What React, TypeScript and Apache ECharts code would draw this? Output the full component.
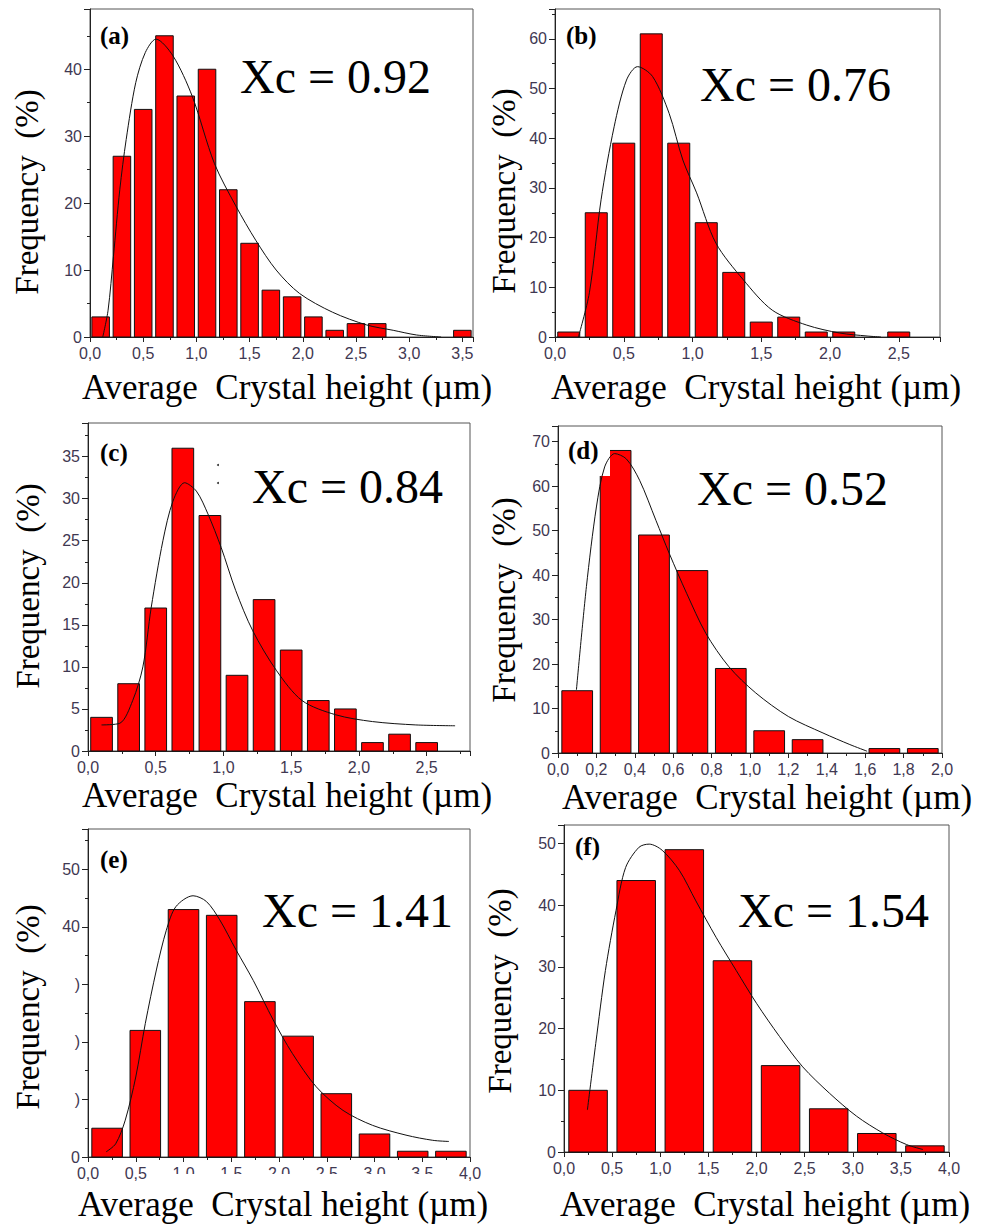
import React, { useEffect, useRef } from 'react';
import * as echarts from 'echarts';

// ---------- data ----------
const aCenters = [0.1, 0.3, 0.5, 0.7, 0.9, 1.1, 1.3, 1.5, 1.7, 1.9, 2.1, 2.3, 2.5, 2.7, 3.5];
const aFreq = [3, 27, 34, 45, 36, 40, 22, 14, 7, 6, 3, 1, 2, 2, 1];
const aFit = [[0.12, 0], [0.17, 4], [0.22, 12], [0.28, 22], [0.34, 29.5], [0.43, 38], [0.52, 42.5], [0.62, 44.5], [0.78, 42], [0.96, 36], [1.17, 25.9], [1.37, 19.6], [1.56, 14.4], [1.75, 10], [1.97, 6.5], [2.28, 3.7], [2.6, 1.8], [2.85, 1], [3.07, 0.3], [3.3, 0]];

const bCenters = [0.1, 0.3, 0.5, 0.7, 0.9, 1.1, 1.3, 1.5, 1.7, 1.9, 2.1, 2.5];
const bFreq = [1, 25, 39, 61, 39, 23, 13, 3, 4, 1, 1, 1];
const bFit = [[0.17, 0], [0.25, 8.9], [0.335, 27.6], [0.43, 42.3], [0.52, 51.7], [0.6, 54.4], [0.71, 52.4], [0.83, 45], [0.93, 35.6], [1.03, 29], [1.17, 18.9], [1.37, 11.5], [1.58, 5.4], [1.83, 2.4], [2.07, 0.8], [2.27, 0.2], [2.37, 0]];

const cCenters = [0.1, 0.3, 0.5, 0.7, 0.9, 1.1, 1.3, 1.5, 1.7, 1.9, 2.1, 2.3, 2.5];
const cFreq = [4, 8, 17, 36, 28, 9, 18, 12, 6, 5, 1, 2, 1];
const cFit = [[0.1, 3.1], [0.235, 3.3], [0.33, 6], [0.405, 10], [0.467, 17.1], [0.553, 25], [0.627, 29.7], [0.713, 31.9], [0.8, 30.9], [0.885, 28.2], [0.983, 24.2], [1.09, 19.1], [1.216, 14.3], [1.39, 9.6], [1.58, 6], [1.83, 4.3], [2.1, 3.5], [2.42, 3.1], [2.71, 3]];

const dCenters = [0.1, 0.3, 0.5, 0.7, 0.9, 1.1, 1.3, 1.7, 1.9];
const dFreq = [14, 68, 49, 41, 19, 5, 3, 1, 1];
const dFit = [[0.096, 14.2], [0.148, 37.4], [0.2, 55.3], [0.243, 64.3], [0.295, 67.3], [0.356, 66.1], [0.425, 61.3], [0.51, 52.3], [0.58, 44.8], [0.67, 35.9], [0.77, 26.9], [0.89, 19.4], [1.03, 13.5], [1.2, 8.2], [1.38, 4.5], [1.52, 1.9], [1.61, 0.4]];

const eCenters = [0.2, 0.6, 1.0, 1.4, 1.8, 2.2, 2.6, 3.0, 3.4, 3.8];
const eFreq = [5, 22, 43, 42, 27, 21, 11, 4, 1, 1];
const eFit = [[0.19, 0.9], [0.29, 2.3], [0.39, 6.4], [0.5, 13.9], [0.6, 23.2], [0.716, 32.5], [0.82, 39.4], [0.92, 43.5], [1.1, 45.4], [1.24, 44.4], [1.38, 41.2], [1.55, 36], [1.73, 30.7], [1.94, 23.8], [2.14, 18], [2.39, 12.2], [2.67, 8.1], [2.98, 5.5], [3.33, 3.8], [3.61, 2.9], [3.78, 2.7]];

const fCenters = [0.25, 0.75, 1.25, 1.75, 2.25, 2.75, 3.25, 3.75];
const fFreq = [10, 44, 49, 31, 14, 7, 3, 1];
const fFit = [[0.243, 6.8], [0.33, 17.6], [0.43, 29.4], [0.54, 39.1], [0.64, 46.1], [0.78, 49.4], [0.885, 49.9], [1.02, 48.9], [1.2, 45.6], [1.37, 40.7], [1.58, 34.8], [1.79, 29.4], [2.0, 24.1], [2.24, 18.7], [2.48, 13.8], [2.76, 9.5], [3.04, 5.8], [3.31, 3.1], [3.56, 1.2], [3.73, 0.4]];

const panelLabels = ['(a)', '(b)', '(c)', '(d)', '(e)', '(f)'];
const xcTexts = ['Xc = 0.92', 'Xc = 0.76', 'Xc = 0.84', 'Xc = 0.52', 'Xc = 1.41', 'Xc = 1.54'];
const yTitle = 'Frequency  (%)';
const xTitle = 'Average  Crystal height (\u00b5m)';

// ---------- layout ----------
const SERIF = 'Liberation Serif';
const SANS = 'Liberation Sans';
const TICK_COLOR = '#3f3852';

const panels = [
  { centers: aCenters, freq: aFreq, fit: aFit, grid: { left: 90, top: 9, width: 383, height: 328 }, xMax: 3.6, xInt: 0.5, yMax: 49, yInt: 10, barW: 0.165,
    lab: [100, 35], xc: [240, 76], yt: [27, 192], xt: [287, 387], hideY: [] as number[] },
  { centers: bCenters, freq: bFreq, fit: bFit, grid: { left: 555, top: 9, width: 385, height: 328 }, xMax: 2.8, xInt: 0.5, yMax: 66, yInt: 10, barW: 0.16,
    lab: [566, 35], xc: [700, 84], yt: [504, 191], xt: [756, 387], hideY: [] },
  { centers: cCenters, freq: cFreq, fit: cFit, grid: { left: 88, top: 423, width: 382, height: 328 }, xMax: 2.82, xInt: 0.5, yMax: 39, yInt: 5, barW: 0.16,
    lab: [100, 452], xc: [252, 486], yt: [28, 586], xt: [287, 795], hideY: [] },
  { centers: dCenters, freq: dFreq, fit: dFit, grid: { left: 558, top: 426, width: 384, height: 327 }, xMax: 2.0, xInt: 0.2, yMax: 73.5, yInt: 10, barW: 0.16,
    lab: [568, 450], xc: [697, 488], yt: [504, 600], xt: [767, 797], hideY: [] },
  { centers: eCenters, freq: eFreq, fit: eFit, grid: { left: 88, top: 829, width: 382, height: 328 }, xMax: 4.0, xInt: 0.5, yMax: 57, yInt: 10, barW: 0.32,
    lab: [100, 859], xc: [262, 910], yt: [28, 1007], xt: [283, 1204], hideY: [10, 20, 30] },
  { centers: fCenters, freq: fFreq, fit: fFit, grid: { left: 564, top: 825, width: 385, height: 327 }, xMax: 4.0, xInt: 0.5, yMax: 53, yInt: 10, barW: 0.4,
    lab: [575, 846], xc: [738, 910], yt: [500, 991], xt: [765, 1204], hideY: [] },
];

function isMultiple(v: number, step: number) {
  const r = v / step;
  return Math.abs(r - Math.round(r)) < 1e-6;
}

function txt(text: string, size: number, weight: string = 'normal') {
  return { text, fontFamily: SERIF, fontSize: size, fontWeight: weight, fill: '#000' };
}

function buildOption() {
  const grid: any[] = [];
  const xAxis: any[] = [];
  const yAxis: any[] = [];
  const series: any[] = [];
  const graphic: any[] = [];

  panels.forEach((p, i) => {
    grid.push({ ...p.grid, show: true, borderColor: '#555', borderWidth: 1, backgroundColor: 'transparent', containLabel: false });
    xAxis.push({
      type: 'value', gridIndex: i, min: 0, max: p.xMax, interval: p.xInt,
      axisLine: { show: true, onZero: false, lineStyle: { color: '#222', width: 1 } },
      axisTick: { show: true, inside: false, length: 5, lineStyle: { color: '#222' } },
      minorTick: { show: true, splitNumber: 2, length: 3, lineStyle: { color: '#222' } },
      splitLine: { show: false },
      axisLabel: {
        show: true, margin: 8, color: TICK_COLOR, fontFamily: SANS, fontSize: 16,
        formatter: (v: number) => (isMultiple(v, p.xInt) ? v.toFixed(1).replace('.', ',') : ''),
      },
    });
    yAxis.push({
      type: 'value', gridIndex: i, min: 0, max: p.yMax, interval: p.yInt,
      axisLine: { show: true, onZero: false, lineStyle: { color: '#222', width: 1 } },
      axisTick: { show: true, inside: false, length: 6, lineStyle: { color: '#222' } },
      minorTick: { show: true, splitNumber: 2, length: 3, lineStyle: { color: '#222' } },
      splitLine: { show: false },
      axisLabel: {
        show: true, margin: 8, color: TICK_COLOR, fontFamily: SANS, fontSize: 16,
        formatter: (v: number) => {
          if (!isMultiple(v, p.yInt)) return '';
          if (p.hideY.indexOf(Math.round(v)) >= 0) return ')';
          return String(Math.round(v));
        },
      },
    });
    const w = p.barW;
    series.push({
      type: 'custom', xAxisIndex: i, yAxisIndex: i, z: 2,
      data: p.centers.map((c, k) => [c, p.freq[k]]),
      encode: { x: 0, y: 1 },
      renderItem: (params: any, api: any) => {
        const x = api.value(0);
        const y = api.value(1);
        const p0 = api.coord([x - w / 2, y]);
        const p1 = api.coord([x + w / 2, 0]);
        return {
          type: 'rect',
          shape: { x: p0[0], y: p0[1], width: p1[0] - p0[0], height: p1[1] - p0[1] },
          style: { fill: '#ff0000', stroke: '#111', lineWidth: 1 },
        };
      },
    });
    series.push({
      type: 'line', xAxisIndex: i, yAxisIndex: i, z: 5,
      data: p.fit, smooth: 0.3, showSymbol: false, symbol: 'none',
      lineStyle: { color: '#111', width: 1 },
    });

    graphic.push({
      type: 'text', x: p.lab[0], y: p.lab[1], z: 10,
      style: { ...txt(panelLabels[i], 25, 'bold'), align: 'left', verticalAlign: 'middle' },
    });
    graphic.push({
      type: 'text', x: p.xc[0], y: p.xc[1], z: 10,
      style: { ...txt(xcTexts[i], 48), align: 'left', verticalAlign: 'middle' },
    });
    graphic.push({
      type: 'text', x: p.yt[0], y: p.yt[1], rotation: Math.PI / 2, z: 10,
      style: { ...txt(yTitle, 33), align: 'center', verticalAlign: 'middle' },
    });
    graphic.push({
      type: 'text', x: p.xt[0], y: p.xt[1], z: 10,
      style: { ...txt(xTitle, 35), align: 'center', verticalAlign: 'middle' },
    });
  });

  // white patch behind label (d) that hides the bar corner
  graphic.push({ type: 'rect', z: 3, shape: { x: 562, y: 436, width: 48, height: 40 }, style: { fill: '#fff' } });
  // patch clipping some tick labels of (e)
  graphic.push({ type: 'rect', z: 3, shape: { x: 165, y: 1174, width: 283, height: 12 }, style: { fill: '#fff' } });
  // stray dots in (c)
  graphic.push({ type: 'circle', z: 3, shape: { cx: 218, cy: 465, r: 1 }, style: { fill: '#333' } });
  graphic.push({ type: 'circle', z: 3, shape: { cx: 218, cy: 483, r: 1 }, style: { fill: '#333' } });

  return { animation: false, backgroundColor: '#fff', grid, xAxis, yAxis, series, graphic };
}

export default function App() {
  const ref = useRef<HTMLDivElement>(null);
  useEffect(() => {
    if (!ref.current) return;
    const chart = echarts.init(ref.current, null, { renderer: 'svg' });
    chart.setOption(buildOption() as any);
    return () => chart.dispose();
  }, []);
  return (
    <div
      ref={ref}
      style={{ position: 'absolute', left: 0, top: 0, width: 984, height: 1225, background: '#fff' }}
    />
  );
}
